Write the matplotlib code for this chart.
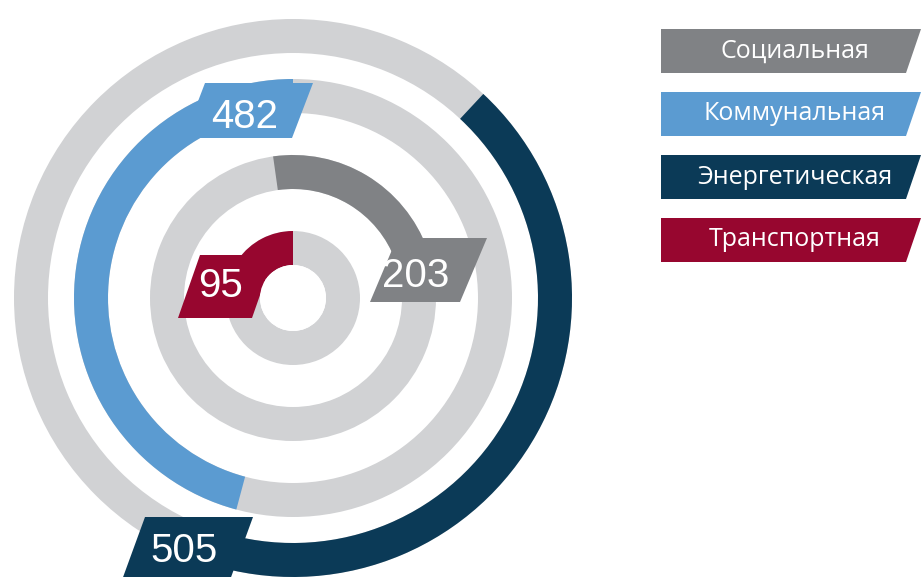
import matplotlib
matplotlib.use("Agg")
import matplotlib.pyplot as plt
from matplotlib.patches import Wedge, Polygon, Circle

# Data
categories = ["Социальная", "Коммунальная", "Энергетическая", "Транспортная"]
values = [203, 482, 505, 95]
colors = ["#808285", "#5b9bd1", "#0b3a57", "#97062f"]

# ring layout (inner radius, arc start/end clockwise from 12 o'clock)
ring_inner = [109, 185, 245, 33]
ring_width = 34
arc_start = [-8, -165, 43, -55]
arc_end = [70, 0, 195, 0]

# value badges (parallelograms) and text position
badges = [
    [(397, 238), (487, 238), (460, 302), (370, 302)],
    [(205, 83), (313, 83), (292, 138), (184, 138)],
    [(145, 517), (253, 517), (230, 580), (122, 580)],
    [(200, 255), (274, 255), (252, 318), (178, 318)],
]
badge_text = [(416, 276), (245, 117), (184, 551), (220, 286)]

cx, cy = 293, 298
ring_gray = "#d1d2d4"

fig = plt.figure(figsize=(9.21, 5.77), dpi=100)
ax = fig.add_axes([0, 0, 1, 1])
ax.set_xlim(0, 921)
ax.set_ylim(577, 0)
ax.axis("off")

for i in range(len(values)):
    # background ring
    ax.add_patch(Wedge((cx, cy), ring_inner[i] + ring_width, 0, 360,
                       width=ring_width, facecolor=ring_gray, edgecolor="none", zorder=1))
    # coloured arc (y axis inverted -> angles go clockwise on screen)
    ax.add_patch(Wedge((cx, cy), ring_inner[i] + ring_width,
                       arc_start[i] - 90, arc_end[i] - 90,
                       width=ring_width, facecolor=colors[i], edgecolor="none", zorder=2))
    ax.add_patch(Polygon(badges[i], closed=True, facecolor=colors[i],
                         edgecolor="none", zorder=3))
    ax.text(badge_text[i][0], badge_text[i][1], str(values[i]), color="white",
            fontsize=29, family=["Liberation Sans", "DejaVu Sans"],
            ha="center", va="center", zorder=5)

# keep the centre hole clean
ax.add_patch(Circle((cx, cy), ring_inner[3], facecolor="white", edgecolor="none", zorder=4))

# legend badges on the right
leg_top = [29, 92, 155, 218]
leg_h = 44
for i in range(len(categories)):
    y0 = leg_top[i]
    pts = [(661, y0), (921, y0), (906, y0 + leg_h), (661, y0 + leg_h)]
    ax.add_patch(Polygon(pts, closed=True, facecolor=colors[i], edgecolor="none", zorder=3))
    ax.text(795, y0 + leg_h / 2, categories[i], color="white", fontsize=18,
            family=["Open Sans", "DejaVu Sans"], ha="center", va="center", zorder=5)

fig.savefig("out.png", dpi=100, facecolor="white")
